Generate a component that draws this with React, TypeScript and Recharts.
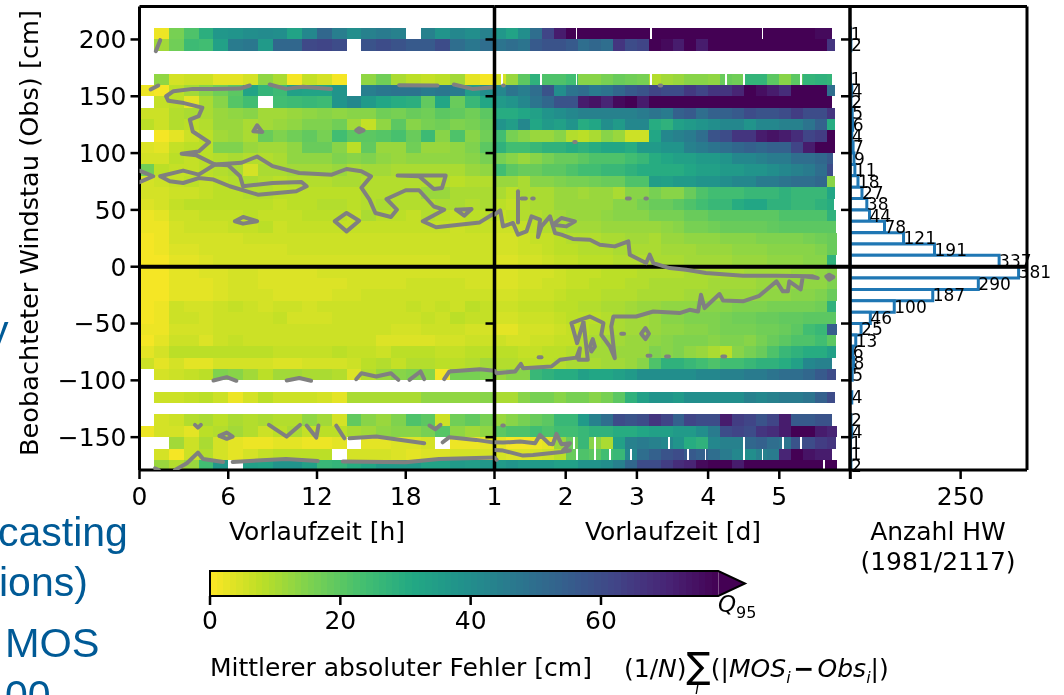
import React from 'react'
import {
  Bar,
  ComposedChart,
  LabelList,
  ReferenceArea,
  ReferenceLine,
  Scatter,
  XAxis,
  YAxis,
} from 'recharts'

const N = null

// upper edge of each 10 cm bin, top to bottom
const BIN_TOPS = [
  210, 200, 190, 180, 170, 160, 150, 140, 130, 120, 110, 100, 90, 80, 70, 60, 50, 40, 30, 20, 10,
  0, -10, -20, -30, -40, -50, -60, -70, -80, -90, -100, -110, -120, -130, -140, -150, -160, -170,
]

const COUNTS = [
  1, 2, 0, 0, 1, 4, 2, 5, 6, 4, 7, 9, 11, 18, 27, 38, 44, 78, 121, 191, 337,
  381, 290, 187, 100, 46, 25, 13, 6, 8, 5, 0, 4, 0, 2, 4, 1, 1, 2,
]

// mean absolute error, hourly columns 0..24 h
const ERR_HOURS: (number | null)[][] = [
  [N, 2, 16, 22, 29, 37, 38, 40, 41, 40, 33, 42, 52, 45, 40, 44, 46, 44, N, 44, 38, 42, 40, 44],
  [N, 11, 17, 25, 24, 34, 46, 47, 36, 52, 52, 61, 62, 60, N, 58, 60, 58, 56, 56, 60, 50, 47, 50],
  [],
  [],
  [N, 13, 5, 6, 6, 3, 3, 5, 13, 10, 1, 7, 5, 1, N, 13, 17, 10, 8, 7, 8, 11, 3, 1],
  [2, 1, 8, 11, 14, 17, 20, 33, 27, 25, 34, 33, 33, 38, N, 45, 47, 48, 48, 46, 47, 46, 35, 40],
  [N, 7, 8, 3, 10, 14, 21, 24, N, 24, 25, 26, 25, 38, 42, 36, 32, 30, 29, 19, 32, 18, 26, 32],
  [6, 6, 9, 10, 10, 12, 13, 14, 11, 11, 12, 13, 14, 13, 14, 14, 17, 16, 18, 17, 20, 19, 17, 20],
  [8, 6, 9, 8, 9, 12, 12, 10, 11, 12, 13, 15, 15, 17, 11, 7, 13, 20, 14, 16, 17, 15, 16, 18],
  [N, 1, 3, 6, 8, 11, 12, 10, 18, 15, 17, 19, 16, 24, 20, 20, 21, 23, 18, 25, 14, 22, 14, 17],
  [4, 3, 7, 8, 8, 15, 15, 12, 11, 11, 13, 18, 18, 14, 8, 19, 12, 12, 17, 12, 12, 13, 15, 20],
  [5, 5, 8, 7, 8, 9, 10, 9, 9, 10, 13, 13, 13, 15, 14, 15, 13, 12, 13, 13, 13, 13, 14, 16],
  [17, 8, 7, 7, 8, 9, 10, 5, 10, 10, 11, 11, 11, 12, 10, 11, 11, 10, 10, 10, 10, 10, 12, 13],
  [5, 6, 7, 8, 7, 8, 9, 10, 9, 8, 9, 9, 9, 10, 10, 9, 9, 9, 9, 9, 9, 8, 9, 9],
  [5, 5, 6, 6, 7, 8, 8, 9, 9, 8, 8, 8, 8, 8, 8, 9, 9, 9, 9, 12, 12, 10, 10, 10],
  [4, 5, 7, 8, 8, 8, 8, 8, 8, 7, 8, 8, 9, 9, 8, 9, 10, 9, 9, 9, 10, 10, 9, 10],
  [2, 3, 6, 6, 7, 7, 7, 8, 7, 7, 7, 8, 8, 8, 7, 10, 8, 8, 7, 9, 8, 7, 8, 8],
  [2, 2, 5, 6, 6, 6, 7, 7, 8, 6, 7, 7, 7, 7, 7, 7, 7, 7, 7, 7, 7, 6, 7, 7],
  [1, 2, 5, 5, 5, 5, 5, 6, 6, 6, 6, 6, 6, 6, 6, 6, 6, 6, 6, 6, 6, 6, 6, 6],
  [1, 2, 4, 4, 5, 5, 5, 5, 5, 5, 6, 6, 6, 6, 6, 6, 6, 6, 6, 6, 6, 6, 6, 6],
  [1, 1, 3, 3, 4, 5, 5, 5, 5, 5, 5, 5, 5, 5, 5, 5, 5, 5, 5, 5, 5, 6, 6, 6],
  [1, 1, 3, 3, 4, 4, 5, 5, 4, 4, 4, 4, 5, 5, 5, 5, 5, 5, 5, 5, 5, 5, 5, 5],
  [1, 1, 3, 3, 3, 4, 5, 5, 4, 4, 4, 4, 4, 4, 5, 5, 5, 5, 6, 6, 6, 6, 5, 5],
  [1, 1, 3, 3, 3, 4, 5, 5, 5, 4, 4, 4, 4, 5, 5, 6, 6, 6, 6, 6, 6, 6, 6, 6],
  [1, 2, 6, 5, 5, 6, 7, 6, 5, 6, 6, 5, 6, 6, 6, 6, 6, 6, 7, 6, 7, 6, 8, 7],
  [1, 2, 6, 6, 5, 6, 6, 6, 6, 7, 5, 5, 5, 6, 6, 6, 6, 6, 6, 7, 6, 8, 7, 7],
  [2, 2, 5, 5, 5, 6, 6, 6, 6, 6, 6, 6, 6, 6, 6, 6, 6, 5, 5, 6, 6, 6, 5, 5],
  [1, 3, 6, 6, 4, 6, 7, 6, 6, 6, 6, 6, 6, 6, 6, 6, 4, 4, 4, 4, 5, 5, 6, 6],
  [3, 5, 8, 8, 8, 8, 8, 8, 8, 7, 7, 7, 7, 8, 7, 7, 6, 8, 8, 8, 7, 7, 8, 8],
  [6, 3, 5, 3, 3, 5, 5, 5, 5, 4, 4, 5, 5, 5, 6, 8, 9, 7, 9, 9, 8, 8, 9, 11],
  [N, 5, 6, 7, 8, 15, 14, 11, 8, 11, 11, 10, 10, 9, 4, 9, 12, 14, 15, 14, 1, 16, 16, 15],
  [],
  [N, 6, 6, 7, 8, 6, 2, 5, 8, 6, 6, 6, 5, 3, 10, 10, 10, 10, 10, 13, 13, 13, 13, 14],
  [],
  [N, 5, 6, 9, 10, 8, 10, 9, 10, 9, 9, 13, 11, 5, 19, 14, 12, 15, 22, 20, 6, 17, 19, 16],
  [2, 5, 5, 3, 8, 9, 11, 9, 6, 8, 10, 7, 8, 8, 10, 11, 13, 14, 14, 16, 21, 13, 11, 13],
  [N, N, 11, 6, 10, 5, 3, 2, 2, 3, 3, 2, 2, 3, N, 3, 3, 4, 4, 5, N, 2, 2, 3],
  [N, 5, 1, 6, 9, 5, 3, 5, 7, 8, 8, 8, 8, N, 5, 5, 5, 4, 3, 4, 4, 5, 5, 5],
  [N, 12, 9, 12, 24, 37, N, 34, 33, 38, 38, 34, 26, 27, 30, 32, 36, 36, 36, 33, 33, 36, 35, 37],
]

// same bins, 4-hourly columns from day 1 on
const ERR_DAYS: (number | null)[][] = [
  [37, 33, 40, 50, 62, 72, 80, 80, 78, 80, 80, 80, 80, 80, 80, 80, 80, 80, 80, 80, 80, 80, 80, 80, 80, 80, 78, 76, 76],
  [48, 50, 48, 56, 58, 58, 56, 50, 52, 50, 66, 60, 62, 78, 76, 72, 80, 72, 80, 80, 80, 80, 80, 80, 80, 80, 80, 80, 66],
  [],
  [],
  [5, 12, 20, 28, 22, 22, 24, 14, 14, 16, 18, 17, 16, 9, 11, 12, 14, 14, 13, 18, 17, 27, 27, 20, 14, 20, 27, 28, 27],
  [42, 48, 45, 50, 58, 40, 48, 50, 46, 48, 52, 56, 58, 62, 60, 60, 65, 62, 66, 66, 70, 78, 75, 72, 68, 78, 80, 80, 50],
  [36, 38, 42, 48, 52, 58, 58, 72, 74, 70, 76, 78, 72, 80, 80, 80, 80, 80, 80, 80, 80, 80, 80, 80, 80, 80, 80, 80, 80],
  [30, 30, 32, 34, 38, 40, 42, 44, 44, 44, 44, 44, 46, 48, 46, 54, 56, 50, 54, 54, 56, 60, 58, 58, 60, 64, 60, 60, 66],
  [38, 35, 42, 32, 36, 34, 38, 30, 32, 40, 36, 42, 42, 30, 28, 34, 36, 38, 40, 42, 42, 38, 42, 42, 44, 44, 48, 54, 30],
  [24, 16, 14, 12, 12, 14, 9, 8, 10, 14, 12, 6, 6, 32, 42, 44, 46, 50, 58, 60, 66, 66, 72, 74, 72, 68, 62, 64, 78],
  [28, 24, 24, 26, 28, 28, 30, 28, 30, 32, 32, 30, 36, 36, 38, 38, 44, 46, 48, 50, 52, 54, 52, 54, 54, 62, 72, 80, 80],
  [16, 14, 12, 14, 16, 18, 18, 20, 22, 22, 22, 24, 26, 30, 32, 34, 34, 36, 36, 38, 42, 42, 44, 46, 46, 50, 50, 52, 56],
  [24, 20, 18, 18, 20, 20, 22, 24, 24, 26, 26, 28, 30, 30, 30, 30, 32, 34, 34, 36, 36, 38, 38, 40, 42, 44, 46, 50, 60],
  [12, 12, 10, 14, 14, 15, 16, 16, 17, 18, 18, 22, 22, 35, 34, 36, 36, 38, 38, 40, 42, 42, 46, 46, 48, 50, 50, 52, 14],
  [10, 8, 10, 10, 10, 12, 12, 11, 12, 12, 10, 14, 14, 16, 14, 14, 18, 22, 24, 24, 24, 26, 26, 26, 28, 26, 26, 26, 32],
  [8, 7, 9, 10, 10, 12, 12, 12, 12, 12, 14, 14, 16, 18, 18, 20, 22, 24, 26, 26, 30, 32, 32, 28, 28, 26, 26, 28, 30],
  [7, 8, 9, 9, 10, 11, 12, 12, 12, 13, 14, 14, 14, 16, 16, 16, 18, 18, 20, 20, 20, 20, 20, 20, 22, 22, 22, 22, 28],
  [6, 6, 7, 8, 9, 10, 11, 11, 11, 12, 12, 12, 12, 12, 13, 14, 16, 16, 17, 18, 18, 18, 18, 19, 20, 20, 20, 20, 20],
  [5, 5, 6, 7, 7, 8, 9, 9, 9, 10, 10, 11, 11, 10, 12, 12, 13, 13, 13, 14, 14, 14, 15, 15, 15, 15, 16, 17, 18],
  [5, 5, 6, 6, 7, 8, 8, 9, 9, 9, 10, 10, 10, 10, 11, 11, 11, 12, 12, 12, 13, 13, 13, 14, 14, 14, 14, 15, 18],
  [4, 4, 5, 5, 6, 7, 7, 8, 8, 8, 9, 9, 9, 10, 10, 10, 11, 11, 11, 11, 12, 12, 12, 13, 13, 13, 14, 14, 28],
  [4, 4, 5, 5, 5, 6, 7, 7, 7, 8, 8, 8, 9, 9, 9, 9, 10, 10, 10, 10, 10, 11, 11, 11, 11, 12, 12, 13, 14],
  [4, 4, 5, 5, 6, 6, 7, 7, 8, 8, 8, 9, 9, 10, 10, 10, 10, 10, 11, 11, 11, 11, 12, 12, 12, 12, 13, 13, 15],
  [5, 5, 6, 6, 6, 7, 8, 8, 8, 9, 9, 9, 10, 10, 10, 10, 11, 11, 11, 12, 12, 12, 13, 13, 13, 14, 14, 15, 18],
  [6, 6, 7, 7, 7, 8, 8, 9, 9, 10, 10, 11, 12, 12, 13, 13, 13, 14, 14, 14, 15, 15, 15, 16, 16, 16, 16, 17, 28],
  [5, 5, 6, 6, 6, 7, 8, 8, 8, 9, 10, 11, 11, 12, 14, 14, 15, 15, 15, 16, 17, 17, 18, 18, 19, 19, 20, 20, 20],
  [3, 3, 5, 5, 5, 6, 7, 8, 9, 9, 10, 11, 11, 12, 13, 13, 14, 14, 15, 16, 16, 16, 17, 17, 18, 20, 24, 26, 55],
  [6, 5, 5, 6, 6, 7, 7, 9, 10, 11, 11, 12, 12, 13, 14, 15, 15, 15, 14, 15, 15, 14, 16, 18, 20, 22, 22, 24, 20],
  [8, 8, 7, 7, 8, 8, 9, 9, 11, 11, 12, 12, 12, 15, 14, 15, 13, 12, 10, 8, 14, 16, 18, 22, 26, 28, 30, 30, 34],
  [9, 9, 8, 8, 8, 9, 10, 10, 10, 11, 11, 12, 14, 22, 28, 28, 26, 24, 22, 24, 24, 26, 28, 28, 30, 34, 42, 44, 44],
  [12, 14, 14, 26, 28, 30, 30, 34, 32, 32, 34, 36, 40, 40, 40, 40, 40, 42, 42, 44, 44, 46, 46, 48, 50, 50, 52, 56, 60],
  [],
  [10, 10, 14, 16, 16, 14, 16, 16, 14, 16, 20, 28, 34, 38, 38, 36, 40, 40, 40, 40, 40, 44, 42, 44, 46, 46, 48, 54, 60],
  [],
  [12, 14, 16, 18, 20, 26, 26, 36, 44, 50, 60, 58, 60, 66, 62, 54, 62, 60, 60, 72, 64, 62, 58, 62, 72, 56, 56, 58, 58],
  [20, 22, 22, 24, 22, 24, 24, 26, 28, 28, 30, 30, 32, 34, 34, 36, 36, 40, 46, 60, 62, 60, 66, 68, 72, 80, 80, 72, 70],
  [3, 1, 1, 2, 3, 12, 18, 26, 14, 10, 34, 44, 46, 44, 42, 38, 30, 28, 42, 44, 44, 52, 54, 50, 48, 58, 60, 64, 66],
  [5, 4, 4, 5, 6, 8, 18, 22, 20, 24, 26, 42, 50, 54, 58, 60, 56, 54, 50, 46, 42, 40, 44, 46, 70, 78, 74, 72, 72],
  [36, 38, 36, 36, 36, 34, 34, 38, 38, 40, 44, 52, 60, 60, 64, 68, 70, 76, 80, 80, 72, 78, 80, 80, 80, 80, 80, 80, 80],
]

// last forecast day with data, per bin
const DAY_ENDS = [
  5.74, 5.78, 0, 0, 5.74, 5.78, 5.74, 5.78, 5.78, 5.78, 5.78, 5.76, 5.76, 5.78, 5.78, 5.77, 5.8, 5.8, 5.81, 5.81, 5.8,
  5.81, 5.81, 5.81, 5.8, 5.8, 5.81, 5.79, 5.79, 5.74, 5.79, 0, 5.78, 0, 5.74, 5.81, 5.79, 5.74, 5.81,
]

// missing hours inside the day panel: [bin top, day]
const DAY_GAPS = [
  [210, 2.14], [210, 3.19], [210, 4.75],
  [170, 1.09], [170, 1.64], [170, 2.14], [170, 3.19], [170, 4.24], [170, 4.49], [170, 5.29],
  [-150, 2.1], [-150, 2.4], [-150, 3.44], [-150, 4.49], [-150, 5.04], [-150, 5.29],
  [-160, 2.15], [-160, 2.4], [-160, 2.61], [-160, 2.9], [-160, 3.7], [-160, 3.95], [-160, 4.49], [-160, 4.75],
  [-170, 5.62],
]

// contour of the error level, [hours, cm]
const CONTOUR_HOURS = [
  [[1.1, 189.7], [1.4, 199.4]],
  [[0.75, 156], [1.27, 159.5]],
  [[7.45, 159.5], [6.8, 156.8], [5, 156.5], [3.6, 156.5], [2.3, 154.5], [1.8, 150], [1.95, 146], [3, 144], [4.25, 140], [4, 132.5], [3.4, 129.5], [3.6, 119], [4.7, 109.5], [4, 101.5], [2.85, 99.5], [3.85, 98], [5.1, 90], [6.9, 91.5], [7.95, 97], [9, 88.5], [10.8, 82.5], [13, 81], [14, 86], [15, 84], [15.65, 79.5], [15, 69.5], [15.55, 59], [15.95, 47.3], [17, 43.8], [17.4, 50.2], [16.7, 59.6], [18, 67.3], [18.9, 67.3], [19.9, 53], [20.6, 50.2], [19.15, 40], [20.05, 34.7], [23, 39], [24, 47]],
  [[5.1, 90], [4, 81], [2.95, 84.6], [1.4, 79.6], [2.05, 75.2], [2.95, 73.7], [4, 78], [5, 76.7], [6.1, 70.8], [8, 63.4], [10.6, 66.4], [11.3, 70.8], [10.95, 74.6], [9, 73.7], [7, 70.8], [6.8, 79.6], [6, 89.3], [5.1, 90]],
  [[0, 84.5], [0.93, 79.6], [0, 74.3]],
  [[7.7, 119.2], [7.95, 124.5], [8.3, 118.6], [7.7, 119.2]],
  [[14.65, 120], [14.85, 121.9], [15.15, 120], [14.85, 118.4], [14.65, 120]],
  [[17.45, 80.2], [20.7, 80.2], [20.45, 69.3], [19.9, 68.4], [18.9, 79.6], [17.45, 80.2]],
  [[21.4, 50.2], [22.45, 50.8], [21.95, 44.9], [21.4, 50.2]],
  [[6.45, 40], [7, 43.8], [7.95, 40], [7, 37.9], [6.45, 40]],
  [[13.2, 40], [14, 47.3], [14.85, 40.5], [14, 31.1], [13.2, 40]],
  [[8.8, 160.4], [9.9, 156.5], [11.05, 158.3], [12.95, 156.5]],
  [[17.55, 159.8], [20.15, 159.5]],
  [[21.25, 160.4], [22.5, 156.5], [24, 158]],
  [[5, -100.1], [5.9, -97.2], [6.55, -100.4]],
  [[9.95, -100.1], [10.8, -98], [11.6, -100.4]],
  [[14.65, -99], [15, -93.7], [16, -96.6], [17, -93.7], [17.5, -99.6]],
  [[18.25, -99.6], [19, -92.2], [19.25, -99]],
  [[20.6, -99], [20.95, -92.2], [23, -90.2], [24, -91.6]],
  [[3.75, -139.2], [3.95, -141.6], [4.15, -139.2]],
  [[5.4, -148.9], [5.9, -146], [6.3, -149.5], [5.9, -151.5], [5.4, -148.9]],
  [[8.75, -139.2], [9.95, -149.5], [10.85, -139.2]],
  [[11.3, -139.8], [11.95, -150.4], [12.1, -139.8]],
  [[13.3, -139.8], [13.85, -151]],
  [[14.2, -151], [16, -149.5], [19.25, -155.4]],
  [[19.6, -139.8], [20, -143], [20.35, -139.2]],
  [[20.5, -154.5], [20.95, -150], [22.75, -152.4], [24, -154.8]],
  [[2.4, -178.9], [3.2, -173], [3.95, -163.6], [4.3, -169.2], [5.65, -171.8]],
  [[6.3, -171.8], [9.9, -169.2], [12.05, -170.9]],
  [[13.75, -171.5], [18, -172], [20.25, -169.2], [24, -168]],
  [[1.05, -177.4], [1.3, -178.9]],
]

// same contour, [days, cm]
const CONTOUR_DAYS = [
  [[1, 45.8], [1.08, 49.6], [1.12, 35.5], [1.26, 38.5], [1.33, 28.2], [1.45, 31.1], [1.52, 44.3], [1.64, 41.4], [1.61, 26.1], [1.66, 35.5], [1.78, 44.3], [1.85, 29.7], [1.94, 28.2], [2.1, 24.4], [2.34, 23.8], [2.48, 19.4], [2.69, 17.9], [2.88, 22.3], [2.9, 10.6], [3.13, 3.2], [3.18, 10.6], [3.23, 3.2], [3.46, -1.2], [3.69, -2.6], [3.97, -5.6], [4.49, -7.9], [4.96, -7.9], [5.47, -8.5], [5.54, -10], [5.33, -8.5], [5.3, -20], [5.14, -12.9], [5.12, -21.7], [5.05, -21.7], [4.96, -12.9], [4.72, -25.6], [4.49, -30.5], [4.21, -29.7], [4.16, -24], [3.95, -36.4], [3.9, -24.7], [3.86, -39.4], [3.74, -37.9], [3.6, -40.8], [3.23, -39.4], [2.99, -43.8], [2.67, -43.8], [2.64, -52.6], [2.69, -80.5], [2.62, -70.2], [2.5, -59.9], [2.53, -49.6], [2.34, -43.8], [2.2, -46.7], [2.08, -49.6], [2.16, -67.3], [2.25, -48.2], [2.31, -81.9], [2.18, -81.9], [2.2, -71.7], [2.15, -80], [1.92, -81.9], [1.8, -87.8], [1.4, -89.3], [1.37, -85.5], [1.29, -92.2], [1.03, -93.7], [1, -91.6]],
  [[2.34, -70.2], [2.38, -63.7], [2.41, -70.2], [2.36, -74.6], [2.34, -70.2]],
  [[5.66, -8.5], [5.7, -7], [5.76, -9.1], [5.7, -11.5], [5.66, -8.5]],
  [[3.06, -59], [3.12, -54], [3.17, -59], [3.12, -63.7], [3.06, -59]],
  [[2.78, -59], [2.82, -59]],
  [[1.62, -79.6], [1.66, -79.6]],
  [[3.15, -78.4], [3.19, -78.4]],
  [[3.41, -79], [3.45, -79]],
  [[4.2, -79], [4.24, -79]],
  [[1.38, 60], [1.44, 60]],
  [[1.53, 60], [1.55, 60]],
  [[2.86, 60], [2.9, 60]],
  [[3.12, 60], [3.14, 60]],
  [[2.12, 109.8], [2.14, 109.8]],
  [[3.32, 159.5], [3.34, 159.5]],
  [[1.11, -139.8], [1.13, -139.8]],
  [[1.12, 159.5], [1.13, 159.5]],
  [[1.33, 66.4], [1.33, 39]],
  [[1.82, 37], [1.94, 42.9], [2.13, 39.9], [2.01, 35.5], [1.82, 37]],
  [[1, -154.5], [1.12, -154.8], [1.36, -153.9], [1.57, -155.4], [1.64, -148], [1.77, -155.9], [1.82, -156.2], [1.87, -147.1], [1.94, -156.2], [2.06, -155.4], [1.96, -161.8], [2.06, -161.8], [1.94, -163], [1.54, -165.6], [1.4, -166.2], [1.12, -161.8], [1, -161.2]],
  [[1, -168], [1.03, -170]],
]

const Y_TICKS = [-150, -100, -50, 0, 50, 100, 150, 200]
const HOUR_TICKS = [0, 6, 12, 18]
const DAY_TICKS = [1, 2, 3, 4, 5, 6]
const COUNT_TICKS = [0, 250]
const CBAR_TICKS = [0, 20, 40, 60]
const CBAR_LEVELS = Array.from({ length: 78 }, (_, i) => i)

const VIRIDIS = ['#440154', '#482475', '#414487', '#355f8d', '#2a788e', '#21918c', '#22a884', '#44bf70', '#7ad151', '#bddf26', '#fde725']
const Q95 = 78
const Y_DOMAIN = [-178.9, 229]
const FONT = 'DejaVu Sans'
const TICK = { fontSize: 25, fill: '#000', fontFamily: FONT }
const AXIS_LINE = { stroke: '#000', strokeWidth: 3 }
const TICK_LINE = { stroke: '#000', strokeWidth: 2.5 }

function errColor(v: number) {
  const t = Math.max(0, Math.min(1, 1 - v / Q95)) * 10
  const i = Math.min(9, Math.floor(t))
  const hex = (s: string, k: number) => parseInt(s.slice(1 + k * 2, 3 + k * 2), 16)
  const mix = (k: number) => Math.round(hex(VIRIDIS[i], k) + (hex(VIRIDIS[i + 1], k) - hex(VIRIDIS[i], k)) * (t - i))
  return `rgb(${mix(0)},${mix(1)},${mix(2)})`
}

const formatY = (v: number) => (v < 0 ? `\u2212${-v}` : `${v}`)
const CellRect = (p: any) => <rect x={p.x} y={p.y} width={p.width} height={p.height} fill={p.fill} shapeRendering="crispEdges" />
const NoDot = () => null

const cellArea = (key: string, x1: number, x2: number, top: number, fill: string) => (
  <ReferenceArea
    key={key}
    x1={x1}
    x2={x2}
    y1={Math.max(top - 10, Y_DOMAIN[0])}
    y2={top}
    fill={fill}
    fillOpacity={1}
    stroke="none"
    ifOverflow="visible"
    shape={CellRect}
  />
)

const contourSeries = (segments: number[][][], prefix: string) =>
  segments.map((seg, i) => (
    <Scatter
      key={`${prefix}${i}`}
      data={seg.map(([x, y]) => ({ x, y }))}
      dataKey="y"
      line={{ stroke: '#808080', strokeWidth: 4, strokeLinejoin: 'round', strokeLinecap: 'round' }}
      shape={NoDot}
      isAnimationActive={false}
    />
  ))

function Txt({ x, y, size = 25, anchor = 'left', rotate = false, color = '#000', font = FONT, children }: any) {
  const shift = anchor === 'center' ? '-50%' : '0'
  return (
    <div
      style={{
        position: 'absolute',
        left: x,
        top: y,
        fontSize: size,
        fontFamily: font,
        color,
        whiteSpace: 'nowrap',
        lineHeight: 1,
        transform: rotate ? 'translate(-50%,-50%) rotate(-90deg)' : `translate(${shift},-50%)`,
      }}
    >
      {children}
    </div>
  )
}

function HoursPanel() {
  return (
    <ComposedChart
      width={520}
      height={520}
      margin={{ top: 6.5, right: 25.5, bottom: 10, left: 59.5 }}
      style={{ position: 'absolute', left: 0, top: 0 }}
    >
      <XAxis dataKey="x" type="number" domain={[0, 24]} ticks={HOUR_TICKS} height={40} tick={TICK} tickSize={9} tickMargin={8} axisLine={AXIS_LINE} tickLine={TICK_LINE} allowDataOverflow />
      <YAxis dataKey="y" type="number" domain={Y_DOMAIN} ticks={Y_TICKS} width={80} tick={TICK} tickSize={9} tickMargin={4} tickFormatter={formatY} axisLine={AXIS_LINE} tickLine={TICK_LINE} allowDataOverflow />
      {BIN_TOPS.flatMap((top, r) =>
        ERR_HOURS[r].map((v, c) => (v === null ? null : cellArea(`h${r}-${c}`, c, c + 1, top, errColor(v)))),
      )}
      {contourSeries(CONTOUR_HOURS, 'ch')}
      <ReferenceLine y={0} stroke="#000" strokeWidth={4} />
      <ReferenceLine y={229} stroke="#000" strokeWidth={3} />
    </ComposedChart>
  )
}

function DaysPanel() {
  return (
    <ComposedChart
      width={400}
      height={520}
      margin={{ top: 6.5, right: 19.5, bottom: 10, left: 4.5 }}
      style={{ position: 'absolute', left: 470, top: 0 }}
    >
      <XAxis dataKey="x" type="number" domain={[1, 6]} ticks={DAY_TICKS} height={40} tick={TICK} tickSize={9} tickMargin={8} tickFormatter={(v: number) => (v === 6 ? '' : `${v}`)} axisLine={AXIS_LINE} tickLine={TICK_LINE} allowDataOverflow />
      <YAxis dataKey="y" type="number" domain={Y_DOMAIN} ticks={Y_TICKS} width={20} tick={TICK} tickSize={9} tickFormatter={() => ''} axisLine={{ stroke: '#000', strokeWidth: 3.5 }} tickLine={TICK_LINE} allowDataOverflow />
      {BIN_TOPS.flatMap((top, r) =>
        ERR_DAYS[r].map((v, c) => {
          const x1 = 1 + c / 6
          const x2 = Math.min(1 + (c + 1) / 6, DAY_ENDS[r])
          return v === null || x1 >= x2 ? null : cellArea(`d${r}-${c}`, x1, x2, top, errColor(v))
        }),
      )}
      {DAY_GAPS.map(([top, d], i) => cellArea(`g${i}`, d, d + 0.025, top, '#fff'))}
      {contourSeries(CONTOUR_DAYS, 'cd')}
      <ReferenceLine y={0} stroke="#000" strokeWidth={4} />
      <ReferenceLine y={229} stroke="#000" strokeWidth={3} />
    </ComposedChart>
  )
}

function CountPanel() {
  const bars = BIN_TOPS.map((top, i) => ({ mid: top - 5, count: COUNTS[i] })).filter((d) => d.count > 0)
  return (
    <ComposedChart
      layout="vertical"
      data={bars}
      width={230}
      height={520}
      margin={{ top: 6.5, right: 29, bottom: 10, left: 4 }}
      style={{ position: 'absolute', left: 826, top: 0 }}
    >
      <XAxis type="number" domain={[0, 400]} ticks={COUNT_TICKS} height={40} tick={TICK} tickSize={9} tickMargin={8} tickFormatter={(v: number) => (v === 0 ? '' : `${v}`)} axisLine={AXIS_LINE} tickLine={TICK_LINE} allowDataOverflow />
      <YAxis dataKey="mid" type="number" reversed domain={Y_DOMAIN} ticks={Y_TICKS} width={20} tick={TICK} tickSize={9} tickFormatter={() => ''} axisLine={{ stroke: '#000', strokeWidth: 3.5 }} tickLine={TICK_LINE} allowDataOverflow />
      <Bar dataKey="count" barSize={11.35} fill="#fff" stroke="#1f77b4" strokeWidth={3} isAnimationActive={false}>
        <LabelList dataKey="count" position="right" offset={0} style={{ fontSize: 17, fill: '#000', fontFamily: FONT }} />
      </Bar>
      <ReferenceLine y={0} stroke="#000" strokeWidth={4} />
      <ReferenceLine y={229} stroke="#000" strokeWidth={3} />
      <ReferenceLine x={400} stroke="#000" strokeWidth={3} />
    </ComposedChart>
  )
}

const ColorbarOutline = (p: any) => {
  const tip = p.x + (p.width * Q95) / 82.1
  const path = `M${p.x},${p.y}H${tip}L${p.x + p.width},${p.y + p.height / 2}L${tip},${p.y + p.height}H${p.x}Z`
  const arrow = `M${tip},${p.y}L${p.x + p.width},${p.y + p.height / 2}L${tip},${p.y + p.height}Z`
  return (
    <g>
      <path d={arrow} fill={VIRIDIS[0]} />
      <path d={path} fill="none" stroke="#000" strokeWidth={2} />
    </g>
  )
}

function Colorbar() {
  return (
    <ComposedChart width={580} height={80} margin={{ top: 11, right: 25, bottom: 0, left: 20 }} style={{ position: 'absolute', left: 190, top: 560 }}>
      <XAxis type="number" dataKey="x" domain={[0, 82.1]} ticks={CBAR_TICKS} height={44} tick={TICK} tickSize={9} tickMargin={6} axisLine={false} tickLine={TICK_LINE} allowDataOverflow />
      <YAxis type="number" dataKey="y" domain={[0, 1]} hide />
      <Scatter data={CBAR_TICKS.map((x) => ({ x, y: 0 }))} dataKey="y" shape={NoDot} isAnimationActive={false} />
      {CBAR_LEVELS.map((v) => (
        <ReferenceArea key={v} x1={v} x2={v + 1} y1={0} y2={1} fill={errColor(v + 0.5)} fillOpacity={1} stroke="none" ifOverflow="visible" shape={CellRect} />
      ))}
      <ReferenceArea x1={0} x2={82.1} y1={0} y2={1} fill="none" ifOverflow="visible" shape={ColorbarOutline} />
    </ComposedChart>
  )
}

export default function App() {
  return (
    <div style={{ position: 'absolute', left: 0, top: 0, width: 1064, height: 695, overflow: 'hidden', background: '#fff', filter: 'blur(0.4px)' }}>
      <Txt x={-12} y={330} size={41} color="#005a96" font="Liberation Sans">y</Txt>
      <Txt x={-2} y={532} size={41} color="#005a96" font="Liberation Sans">casting</Txt>
      <Txt x={-1} y={582} size={41} color="#005a96" font="Liberation Sans">ions)</Txt>
      <Txt x={5} y={643} size={41.5} color="#005a96" font="Liberation Sans">MOS</Txt>
      <Txt x={5} y={695} size={41} color="#005a96" font="Liberation Sans">00</Txt>
      <HoursPanel />
      <DaysPanel />
      <CountPanel />
      <Colorbar />
      <Txt x={30} y={232.5} rotate size={25.6}>Beobachteter Windstau (Obs) [cm]</Txt>
      <Txt x={317} y={531} anchor="center">Vorlaufzeit [h]</Txt>
      <Txt x={673} y={531} anchor="center">Vorlaufzeit [d]</Txt>
      <Txt x={938} y={531} anchor="center">Anzahl HW</Txt>
      <Txt x={938} y={561} anchor="center">(1981/2117)</Txt>
      <Txt x={718} y={607} size={23}><i>Q</i><sub style={{ fontSize: 16 }}>95</sub></Txt>
      <Txt x={210} y={667}>Mittlerer absoluter Fehler [cm]</Txt>
      <Txt x={624} y={667}>(1/<i>N</i>)<span style={{ fontSize: 36, verticalAlign: -1 }}>{'\u2211'}</span>(|<i>MOS<sub style={{ fontSize: 16 }}>i</sub></i><b style={{ margin: '0 3px' }}>{'\u2212'}</b><i>Obs<sub style={{ fontSize: 16 }}>i</sub></i>|)</Txt>
      <Txt x={695} y={689} size={15}><i>i</i></Txt>
    </div>
  )
}
